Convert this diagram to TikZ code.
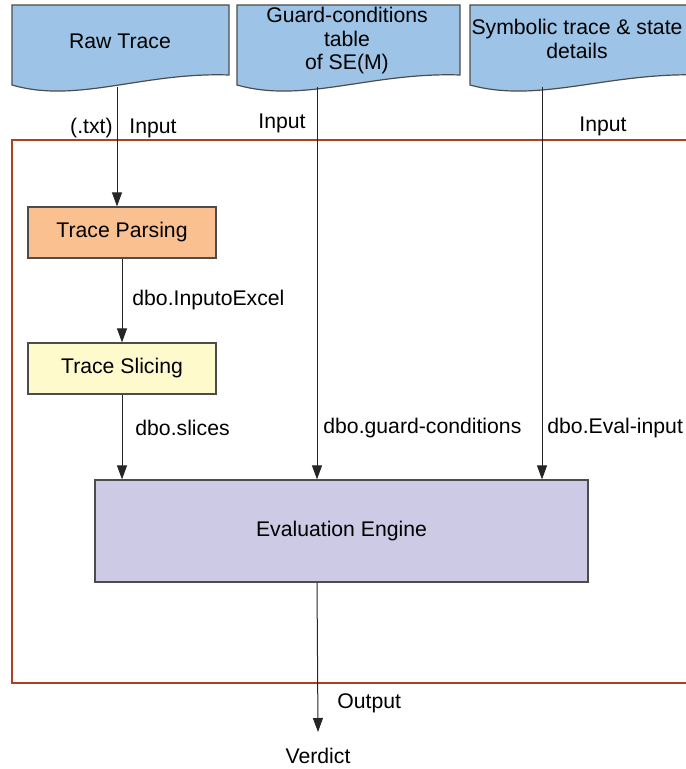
\documentclass[tikz,border=0pt]{standalone}
\usepackage{fontspec}
\setmainfont{Liberation Sans}
\usetikzlibrary{arrows.meta,positioning}
\definecolor{docblue}{RGB}{157,195,230}
\definecolor{parseorange}{RGB}{250,192,144}
\definecolor{sliceyellow}{RGB}{255,250,204}
\definecolor{enginelilac}{RGB}{204,202,228}
\definecolor{framered}{RGB}{170,64,36}
\tikzset{%
    docpage/.style={%
        draw=black!70, fill=docblue, line width=0.6pt
    },
    process/.style={%
        rectangle, minimum width=94pt, minimum height=25.5pt, text centered, draw=black!70, line width=0.6pt
    },
    engine/.style={%
        rectangle, minimum width=246.5pt, minimum height=51pt, text centered, draw=black!70, line width=0.6pt, fill=enginelilac
    },
    txt/.style={%
        align=center, inner sep=0pt
    },
    lbl/.style={%
        inner sep=0pt
    },
    flow/.style={%
        -{Triangle[length=7pt,width=5pt]}, line width=0.5pt, draw=black!85
    },
    frame/.style={%
        draw=framered, line width=0.7pt
    },
}
\newcommand{\docshape}[2]{%
  \draw[docpage] (#1,5) -- (#1,85) .. controls ({#1+0.3*(#2-#1)},104) and ({#1+0.6*(#2-#1)},72) .. (#2,75) -- (#2,5) -- cycle;}

\begin{document}
\begin{tikzpicture}[x=0.5pt, y=-0.5pt, font=\fontsize{10.6}{11.75}\selectfont]
      \useasboundingbox (0,0) rectangle (685,769);
      \draw[frame] (12,140) rectangle (720,683);

      % input documents
      \docshape{12}{229}
      \docshape{237}{460}
      \docshape{470}{700}
      \node[txt] (raw) at (120,41) {Raw Trace};
      \node[txt] (guard) at (347,41) {Guard-conditions\\table\\of SE(M)};
      \node[txt] (symb) at (577,39) {Symbolic trace \& state\\details};
      \coordinate (rawout) at (117,87);
      \coordinate (guardout) at (317,87);
      \coordinate (symbout) at (542,87);

      \node[process, fill=parseorange] (parse) at (122,232.5) {Trace Parsing};
      \node[process, fill=sliceyellow] (slice) at (122,368.5) {Trace Slicing};
      \node[engine] (eval) at (341.5,531) {Evaluation Engine};
      \node[txt, inner sep=8pt, anchor=north] (verdict) at (318,732) {Verdict};

      \draw[flow] (rawout) -- (rawout |- parse.north);
      \draw[flow] (parse) -- (slice);
      \draw[flow] (slice) -- (slice.south |- eval.north);
      \draw[flow] (guardout) -- (guardout |- eval.north);
      \draw[flow] (symbout) -- (symbout |- eval.north);
      \draw[flow] (eval.south -| guardout) -- (verdict.north);

      % labels
      \node[lbl, anchor=east] (txtin) at (113,128) {(.txt)};
      \node[lbl, anchor=west] (rawin) at (129,128) {Input};
      \node[lbl, anchor=east] (guardin) at (306,123) {Input};
      \node[lbl, anchor=west] (symbin) at (579,126) {Input};
      \node[lbl, anchor=west] (excel) at (132,300) {dbo.InputoExcel};
      \node[lbl, anchor=west] (slices) at (135,428) {dbo.slices};
      \node[lbl, anchor=west] (guardc) at (323,428) {dbo.guard-conditions};
      \node[lbl, anchor=west] (evalin) at (547,428) {dbo.Eval-input};
      \node[lbl, anchor=west] (outlbl) at (337,703) {Output};
    \end{tikzpicture}
\end{document}
